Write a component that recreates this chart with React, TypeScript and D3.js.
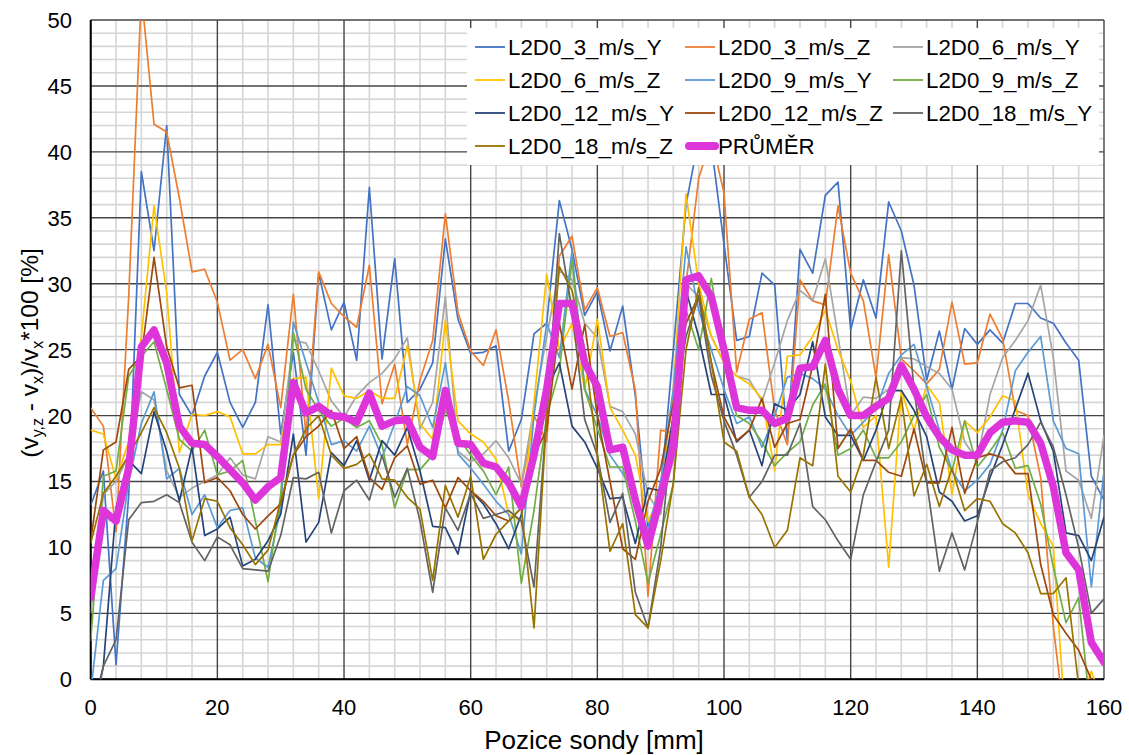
import React from 'react';
import * as d3 from 'd3';

// Probe positions [mm]
const positions = d3.range(0, 161, 2);

const xTicks = [0, 20, 40, 60, 80, 100, 120, 140, 160];
const yTicks = [0, 5, 10, 15, 20, 25, 30, 35, 40, 45, 50];

const seriesNames = [
  'L2D0_3_m/s_Y', 'L2D0_3_m/s_Z', 'L2D0_6_m/s_Y', 'L2D0_6_m/s_Z', 'L2D0_9_m/s_Y',
  'L2D0_9_m/s_Z', 'L2D0_12_m/s_Y', 'L2D0_12_m/s_Z', 'L2D0_18_m/s_Y', 'L2D0_18_m/s_Z',
];
const seriesColors = [
  '#4472C4', '#ED7D31', '#A5A5A5', '#FFC000', '#5B9BD5',
  '#70AD47', '#264478', '#9E480E', '#636363', '#997300',
];
const averageName = 'PRŮMĚR';
const averageColor = '#DD35D9';

const s3Y = [13.2, 15.8, 1.1, 14, 38.5, 32.5, 42, 21.6, 20, 23,
  24.8, 21, 19.1, 21, 28.4, 18.6, 24.8, 17, 30.8, 26.5,
  28.6, 24.2, 37.3, 24.3, 31.9, 21, 22, 24, 33.4, 27.3,
  24.7, 24.8, 25.3, 17.3, 19.7, 26.2, 27, 36.3, 32.6, 27.6,
  29.4, 24.9, 28.3, 21.5, 11.5, 14.3, 25, 36, 41, 40.5,
  33, 25.7, 26, 30.8, 29.9, 18, 32.6, 30.8, 36.7, 37.7,
  26.5, 30.3, 27.4, 36.2, 34, 29.9, 22.7, 26.4, 22, 26.6,
  25.4, 26.5, 25.5, 28.5, 28.5, 27.4, 27, 25.5, 24.2, 15.4,
  13.6];
const s3Z = [20.6, 19.2, 11.2, 29, 52, 42.1, 41.5, 36.5, 30.9, 31.1,
  28.6, 24.2, 25, 22.8, 25.4, 20.6, 29.2, 18.5, 30.9, 28.5,
  27.5, 26.7, 31.4, 20.9, 23.9, 17.8, 22.7, 25.7, 35.3, 27.8,
  24.9, 23.8, 26.5, 21.1, 14.6, 20, 18, 32.1, 33.6, 28,
  29.7, 26, 26.3, 21.9, 6.3, 18.9, 18.7, 30, 38, 41,
  36.9, 23.3, 27.3, 27.8, 20.4, 17.8, 30.3, 28.7, 28.4, 35.9,
  30.8, 28.7, 22.9, 32.2, 24.3, 23.4, 22.4, 23.5, 28.6, 23.9,
  24, 27.7, 25.8, 20.4, 20, 15.3, 4, -4, -4, -4,
  -4];
const s6Y = [5, 14, 15, 17, 21.8, 21.2, 15.8, 13.8, 14.5, 15,
  15.5, 16.8, 15.5, 15.2, 18.4, 18, 25.7, 25.5, 23.4, 21.1,
  19.9, 21.5, 22.5, 23.2, 24.3, 25.9, 19, 21, 29, 17.3,
  16.5, 17.1, 18.1, 16.8, 14.8, 20.6, 26, 31, 30.3, 27,
  25.9, 20.7, 20.3, 18.6, 14, 12.5, 20, 30, 29, 26,
  24, 23, 22.7, 21.1, 24, 27.2, 29.5, 28.7, 31.9, 26,
  20, 21.4, 21.3, 22, 24.4, 24.3, 23.7, 23.2, 22, 18,
  16.6, 21.6, 24.4, 25.7, 27.2, 29.9, 24.4, 15.8, 15.1, 12.2,
  18.5];
const s6Z = [18.9, 18.6, 15.2, 18, 26, 35.9, 29.3, 17.2, 20.1, 20,
  20.3, 19.9, 17.1, 17.1, 17.8, 17.8, 22.8, 22.9, 13.7, 23.6,
  21.5, 21.3, 21.9, 21.3, 21.3, 25.3, 19.4, 18.2, 27.2, 19.6,
  18.6, 18, 16.7, 12.5, 12, 21, 30.7, 25, 27, 22,
  27.3, 20.6, 18.9, 17, 12, 14, 22, 36.8, 30, 26,
  24, 23, 22.4, 21.3, 15.8, 24.5, 24.6, 26, 28, 25,
  22.6, 19.1, 20, 8.5, 21.9, 18.9, 22.3, 21, 14, 19.6,
  18.7, 19.9, 21.5, 21.1, 14, 11.8, 10.1, -4, -2, 0.6,
  -2];
const s9Y = [-1, 7.5, 8.4, 15, 19.4, 21.8, 15.2, 16, 12.5, 14,
  11.5, 12.8, 13, 9.2, 8.5, 13, 27.1, 24, 21, 17.8,
  18.1, 17.3, 19.2, 16.8, 19.4, 22.2, 21.5, 19.1, 24, 17.1,
  16, 14.8, 13.5, 12.5, 9.5, 20, 27, 24.4, 32.5, 22,
  20, 17, 15.6, 14, 11.3, 15, 22, 32.8, 28, 25,
  22, 19.4, 19.9, 17.6, 20, 22.9, 23.2, 22.8, 22, 20,
  18.5, 19.5, 20.5, 23.2, 24.6, 25.4, 22.2, 18.9, 15.8, 14.3,
  15.1, 16.3, 18.9, 23.4, 24.8, 26, 19.6, 17.5, 17.1, 7,
  15.8];
const s9Z = [2.9, 15.4, 15.8, 23, 24.5, 25.6, 22, 18.2, 17.3, 18.9,
  15.5, 15.8, 16.6, 12, 7.4, 14, 26.3, 22, 20.4, 19.2,
  19.8, 19.1, 19.6, 17.8, 13, 15.9, 15.9, 17, 20.4, 18.4,
  17, 15.8, 14, 16.1, 7.3, 12.8, 20, 23.4, 31.8, 22,
  19, 16.1, 16.1, 12, 7.3, 11, 14.8, 28, 25, 30.4,
  24, 20, 19.4, 18, 16.2, 17.2, 18, 20.8, 22.4, 17,
  17.5, 18.9, 16.8, 16.8, 18, 20, 21.6, 17.6, 15.8, 19.6,
  16.1, 17.3, 18.7, 16, 16.2, 13.3, 8.5, 4.3, 6.2, -3,
  -3];
const s12Y = [-3, 1, 13, 16.6, 15.6, 20.3, 17.3, 13.5, 17.6, 10.9,
  11.4, 12.3, 8.6, 9.1, 10.5, 12.5, 18.6, 10.4, 11.9, 17.2,
  16.2, 18.1, 15.1, 18.1, 17, 19.1, 15.8, 11.6, 11.5, 9.5,
  14.3, 13.3, 11.8, 9.9, 12.5, 18, 22, 24, 19.2, 18,
  16, 13.7, 13.8, 10.3, 14.5, 14.3, 20, 29.5, 26, 21.6,
  21.6, 18, 18.9, 16.2, 20.9, 20.4, 21.6, 25.6, 19.9, 18.5,
  18.5, 16.6, 18.9, 21.9, 21.9, 20.4, 18.4, 14.2, 13.5, 12,
  12.4, 15.3, 17.8, 20.5, 23.2, 19.6, 17.3, 11.1, 10.9, 9,
  12.3];
const s12Z = [10.5, 17.4, 18, 23.5, 24.5, 32, 25.2, 22.1, 22.3, 14.9,
  15.3, 14.3, 12.5, 11.4, 12.4, 13.3, 17, 18.4, 19.2, 20.4,
  17.5, 18.4, 15.3, 14.4, 16.8, 17.7, 14.8, 15.1, 13, 15.3,
  14.3, 13.5, 12.4, 12, 13, 17, 18.9, 27, 22, 26.9,
  20, 15, 9.9, 9.1, 13.5, 16, 21, 27, 29.1, 24,
  19.9, 18.1, 18.9, 21.3, 17.6, 19.4, 19.7, 23.8, 29.2, 17.5,
  19, 16.6, 16.6, 15.7, 15.4, 19, 14.9, 14.9, 19.1, 14.1,
  16.8, 17.1, 16.8, 15.6, 15.6, 8.7, 4.9, 3.5, 2.2, 0,
  -2];
const s18Y = [-4, 1, 3, 12.1, 13.4, 13.5, 14, 13.4, 10.4, 9,
  10.8, 10.2, 8.4, 8.3, 8.2, 10.9, 15.3, 15.2, 15.7, 11.1,
  14.3, 15.1, 13.6, 17, 13.8, 16, 12, 6.6, 13, 11.3,
  14.1, 12.2, 12.5, 12.8, 12, 7, 20, 33.8, 28, 19.7,
  17, 11.9, 14.1, 6.6, 3.9, 10, 20, 26, 29, 23,
  19.6, 17, 13.8, 15, 17, 17, 19.4, 13.1, 12.1, 10.5,
  9.1, 14, 16.5, 18.9, 32.5, 22, 15, 8.2, 11.1, 8.3,
  11.9, 15.8, 16.5, 16.8, 17.8, 19.5, 17.6, 14, 10, 5,
  6.1];
const s18Z = [10.3, 14.1, 15.4, 17, 18.7, 20.6, 18.7, 16, 10.5, 13.7,
  13.5, 11.5, 10.2, 8.7, 9.8, 13.5, 17, 19, 20, 17,
  16, 16.3, 17.1, 15.2, 15.1, 13.8, 12.9, 7.5, 14.7, 12.3,
  15.4, 9.1, 11, 12, 13, 3.9, 20, 31.3, 29.5, 25,
  17, 9.7, 11.8, 4.9, 3.9, 9, 14.9, 25, 29.7, 24,
  18, 17.3, 13.8, 12.5, 10, 11.3, 16.8, 16.2, 23.9, 15.4,
  14.2, 17, 22.9, 17.5, 21.4, 13.9, 16.3, 13.1, 16, 12.8,
  13.7, 13.5, 11.8, 11.1, 9.6, 6.5, 6.5, 7.7, -0.5, -3,
  -3];
const average = [6.2, 12.8, 12.0, 16, 25.2, 26.5, 24.0, 19.2, 17.9, 17.8,
  16.9, 15.9, 14.9, 13.6, 14.6, 15.3, 22.5, 20.2, 20.7, 20.0,
  19.9, 19.5, 21.7, 19.2, 19.6, 19.7, 17.6, 16.9, 21.9, 17.9,
  17.8, 16.4, 16.1, 14.9, 13.1, 17.0, 22.0, 28.5, 28.5, 24.0,
  22.2, 17.4, 17.6, 13.6, 10.1, 13.9, 17.6, 30.3, 30.6, 29.0,
  25.0, 20.6, 20.4, 20.4, 19.4, 19.8, 23.6, 23.7, 25.7, 22.0,
  20.0, 20.0, 20.7, 21.3, 23.8, 22.0, 19.9, 18.4, 17.4, 17.0,
  17.0, 18.7, 19.5, 19.6, 19.5, 17.9, 14.6, 9.6, 8.3, 2.8,
  1.3];

const seriesValues = [s3Y, s3Z, s6Y, s6Z, s9Y, s9Z, s12Y, s12Z, s18Y, s18Z];

const FONT = "'Liberation Sans', Arial, sans-serif";

export default function App() {
  const W = 1129, H = 755;
  const left = 90.7, right = 1104, top = 20, bottom = 679.3;
  const x = d3.scaleLinear().domain([0, 160]).range([left, right]);
  const y = d3.scaleLinear().domain([0, 50]).range([bottom, top]);
  const line = d3.line<number>().x((_, i) => x(positions[i])).y((d) => y(d));

  const minorX = d3.range(0, 161, 4).filter((v) => v % 20 !== 0);
  const minorY = d3.range(0, 51, 1).filter((v) => v % 5 !== 0);

  const legendItems = [
    ...seriesNames.map((n, i) => ({ name: n, color: seriesColors[i], thick: false })),
    { name: averageName, color: averageColor, thick: true },
  ];
  const colX = [475, 685, 893];
  const rowY = [47, 80, 113, 146];

  return (
    <svg width={W} height={H} style={{ position: 'absolute', left: 0, top: 0, background: '#fff' }} fontFamily={FONT}>
      <defs>
        <clipPath id="plotClip">
          <rect x={left} y={top} width={right - left} height={bottom - top} />
        </clipPath>
      </defs>
      <rect x={0} y={0} width={W} height={H} fill="#fff" />
      {/* minor grid */}
      <g stroke="#d6d6d6" strokeWidth={1.6}>
        {minorX.map((v) => (
          <line key={'mx' + v} x1={x(v)} x2={x(v)} y1={top} y2={bottom} />
        ))}
        {minorY.map((v) => (
          <line key={'my' + v} x1={left} x2={right} y1={y(v)} y2={y(v)} />
        ))}
      </g>
      {/* major grid */}
      <g stroke="#444" strokeWidth={1.4}>
        {xTicks.map((v) => (
          <line key={'Mx' + v} x1={x(v)} x2={x(v)} y1={top} y2={bottom} />
        ))}
        {yTicks.map((v) => (
          <line key={'My' + v} x1={left} x2={right} y1={y(v)} y2={y(v)} />
        ))}
      </g>
      {/* axes */}
      <line x1={left} x2={left} y1={top} y2={bottom} stroke="#000" strokeWidth={2} />
      <line x1={left} x2={right} y1={bottom} y2={bottom} stroke="#000" strokeWidth={2} />

      {/* series */}
      <g clipPath="url(#plotClip)" fill="none">
        {seriesValues.map((vals, i) => (
          <path key={seriesNames[i]} d={line(vals) || ''} stroke={seriesColors[i]} strokeWidth={1.7} strokeLinejoin="round" />
        ))}
        <path d={line(average) || ''} stroke={averageColor} strokeWidth={7.5} strokeLinejoin="round" strokeLinecap="round" />
      </g>

      {/* tick labels */}
      <g fontSize={22} fill="#000">
        {yTicks.map((v) => (
          <text key={'yt' + v} x={72} y={y(v)} dy="0.36em" textAnchor="end">{v}</text>
        ))}
        {xTicks.map((v) => (
          <text key={'xt' + v} x={x(v)} y={715} textAnchor="middle">{v}</text>
        ))}
      </g>

      {/* axis titles */}
      <text x={594} y={749} fontSize={26} textAnchor="middle" fill="#000">Pozice sondy [mm]</text>
      <text transform="translate(38,353) rotate(-90)" fontSize={24.5} textAnchor="middle" fill="#000">
        (v<tspan fontSize={16} dy={5}>y,z</tspan><tspan dy={-5}> - v</tspan><tspan fontSize={16} dy={5}>x</tspan><tspan dy={-5}>)/v</tspan><tspan fontSize={16} dy={5}>x</tspan><tspan dy={-5}>*100 [%]</tspan>
      </text>

      {/* legend */}
      <rect x={467} y={28} width={632} height={137} fill="#fff" />
      <g fontSize={22.3} fill="#000">
        {legendItems.map((it, i) => {
          const cx = colX[i % 3];
          const cy = rowY[Math.floor(i / 3)];
          return (
            <g key={it.name}>
              <line x1={it.thick ? cx + 4 : cx} x2={it.thick ? cx + 30 : cx + 30} y1={cy} y2={cy}
                stroke={it.color} strokeWidth={it.thick ? 8 : 1.8} strokeLinecap={it.thick ? 'round' : 'butt'} />
              <text x={cx + 33} y={cy} dy="0.36em">{it.name}</text>
            </g>
          );
        })}
      </g>
    </svg>
  );
}
